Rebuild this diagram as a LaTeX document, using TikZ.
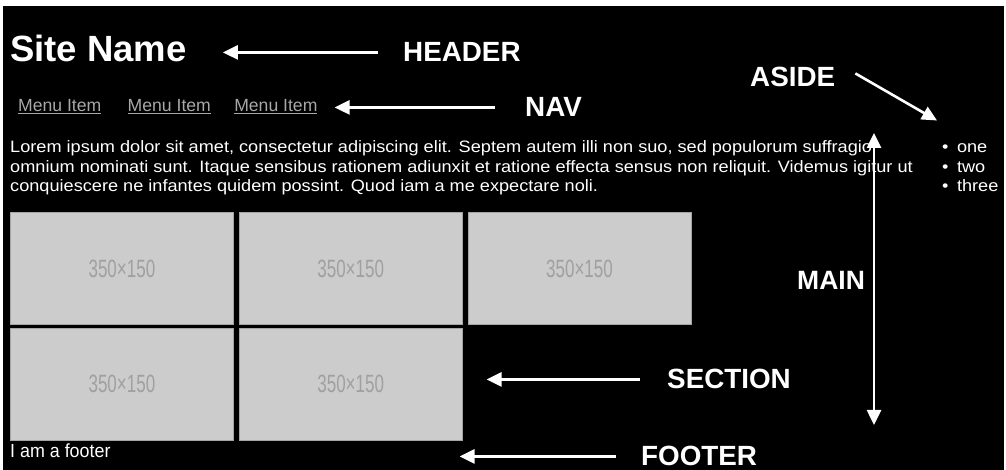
\documentclass[tikz,border=0pt]{standalone}
\usepackage{fontspec}
\setmainfont{Liberation Sans}
\newfontfamily\narrowfont[FakeStretch=0.68]{Liberation Sans}
\newfontfamily\slimfont[FakeStretch=0.94]{Liberation Sans}
\newfontfamily\widefont[FakeStretch=1.1]{Liberation Sans}
\usetikzlibrary{arrows.meta, positioning}
\definecolor{cPage}{HTML}{000000}
\definecolor{cBox}{HTML}{CCCCCC}
\definecolor{cBoxEdge}{HTML}{A4A4A4}
\definecolor{cBoxText}{HTML}{A0A0A0}
\definecolor{cMenu}{HTML}{A8A8A8}
\tikzset{
  callout/.style={font=\fontsize{27.8}{27.8}\selectfont\bfseries, text=white,
    inner sep=0pt, anchor=base west},
  pointer/.style={-{Triangle[length=15pt, width=14pt]}, line width=2.6pt, white},
  imgbox/.style={rectangle, draw=cBoxEdge, fill=cBox, line width=0.8pt,
    minimum width=223pt, minimum height=112pt, inner sep=0pt,
    font=\narrowfont\fontsize{25}{25}\selectfont, text=cBoxText},
  menuitem/.style={font=\fontsize{17.6}{17.6}\selectfont, text=cMenu,
    inner sep=0pt, anchor=base west},
  bodytext/.style={font=\widefont\fontsize{16.5}{19.5}\selectfont, text=white,
    inner sep=0pt, align=left, anchor=north west},
}

\begin{document}
\begin{tikzpicture}[x=1pt, y=1pt]

  % page
  \fill[white] (0,0) rectangle (1006,470);
  \fill[cPage] (3,0) rectangle (1004,464);

  % header and nav
  \node[font=\fontsize{36.5}{36.5}\selectfont\bfseries, text=white, inner sep=0pt,
        anchor=base west] (sitename) at (10,408) {Site Name};
  \node[menuitem] (menuA) at (18,358) {\underline{Menu Item}};
  \node[menuitem, right=26pt of menuA.base east, anchor=base west] (menuB) {\underline{Menu Item}};
  \node[menuitem, right=23pt of menuB.base east, anchor=base west] (menuC) {\underline{Menu Item}};

  % main text and aside
  \node[bodytext] (intro) at (10,329.5) {
    Lorem ipsum dolor sit amet, consectetur adipiscing elit. Septem autem illi non suo, sed populorum suffragio\\
    omnium nominati sunt. Itaque sensibus rationem adiunxit et ratione effecta sensus non reliquit. Videmus igitur ut\\
    conquiescere ne infantes quidem possint. Quod iam a me expectare noli.
  };
  \node[bodytext] (asidelist) at (942,329.5) {
    \vphantom{lf}\textbullet\hspace{8.5pt}one\\
    \textbullet\hspace{8.5pt}two\\
    \textbullet\hspace{8.5pt}three
  };

  % section images
  \node[imgbox, anchor=north west] (imgA) at (10,258) {350×150};
  \node[imgbox, right=5pt of imgA] (imgB) {350×150};
  \node[imgbox, right=5pt of imgB] (imgC) {350×150};
  \node[imgbox, below=3pt of imgA] (imgD) {350×150};
  \node[imgbox, right=5pt of imgD] (imgE) {350×150};

  % footer
  \node[font=\slimfont\fontsize{19}{19}\selectfont, text=white, inner sep=0pt,
        anchor=base west] (footer) at (10,12) {I am a footer};

  % callouts
  \node[callout] (lblheader) at (403,408) {HEADER};
  \node[callout] (lblnav) at (525,353) {NAV};
  \node[callout, font=\fontsize{26.5}{26.5}\selectfont\bfseries] (lblmain) at (797,180) {MAIN};
  \node[callout] (lblaside) at (750,383) {ASIDE};
  \node[callout] (lblsection) at (667,81) {SECTION};
  \node[callout] (lblfooter) at (641,4) {FOOTER};
  \coordinate (maintop) at (874,337);
  \coordinate (mainbot) at (874,45);

  % pointers
  \draw[pointer, shorten <=25pt, shorten >=36pt] (lblheader.west) -- (sitename.east |- lblheader.west);
  \draw[pointer, shorten <=30pt, shorten >=17pt] (lblnav.west) -- (menuC.east |- lblnav.west);
  \draw[pointer] ([xshift=20pt, yshift=4pt]lblaside.east) -- ([xshift=-5pt, yshift=20pt]asidelist.north west);
  \draw[pointer, {Triangle[length=15pt, width=14pt]}-{Triangle[length=15pt, width=14pt]}] (maintop) -- (mainbot);
  \draw[pointer, shorten <=27pt, shorten >=24pt] (lblsection.west) -- (imgE.east |- lblsection.west);
  \draw[pointer, shorten <=25pt, shorten >=-3pt] (lblfooter.west) -- (imgE.east |- lblfooter.west);

\end{tikzpicture}
\end{document}
